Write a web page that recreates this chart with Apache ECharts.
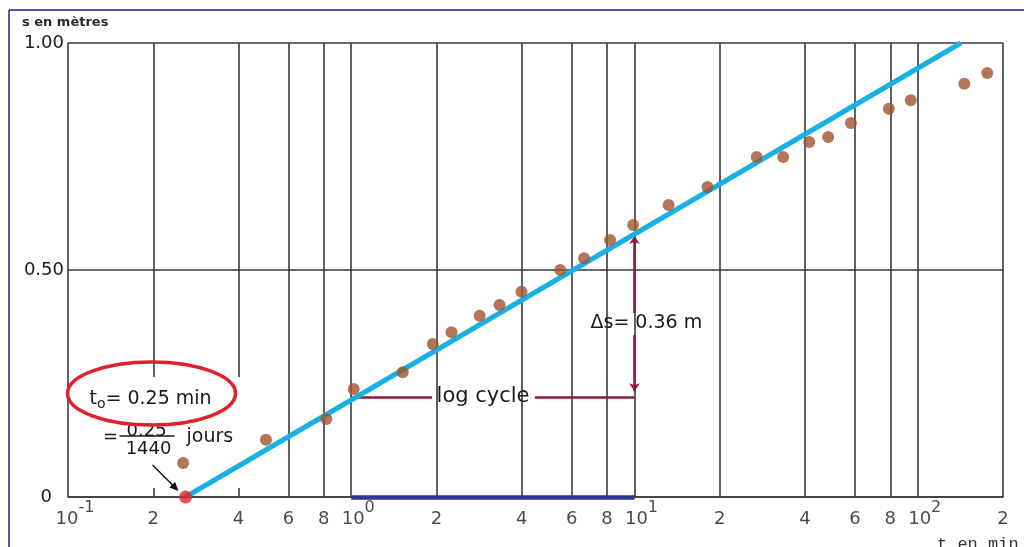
<!DOCTYPE html>
<html>
<head>
<meta charset="utf-8">
<script src="https://cdn.jsdelivr.net/npm/echarts@6/dist/echarts.min.js"></script>
<style>
html,body{margin:0;padding:0;background:#fff;}
#c{width:1024px;height:547px;}
</style>
</head>
<body>
<div id="c"></div>
<script>
// ---- data ----
const timeMin   = [0.255, 0.50, 0.817, 1.02, 1.52, 1.94, 2.26, 2.84, 3.34, 3.99, 5.47, 6.64, 8.2, 9.89, 13.2, 18.1, 27.0, 33.5, 41.4, 48.3, 58.1, 79.1, 94.5, 146, 176];
const drawdownM = [0.075, 0.126, 0.172, 0.238, 0.275, 0.337, 0.363, 0.399, 0.423, 0.452, 0.500, 0.526, 0.566, 0.599, 0.643, 0.683, 0.749, 0.749, 0.782, 0.793, 0.824, 0.855, 0.874, 0.910, 0.934];
const fitLineT  = [0.26, 142];
const fitLineS  = [0, 1.0];
const t0Min     = 0.26;
const xTickValues = [0.1, 0.2, 0.4, 0.6, 0.8, 1, 2, 4, 6, 8, 10, 20, 40, 60, 80, 100, 200];
const xTickLabels = ['10^-1', '2', '4', '6', '8', '10^0', '2', '4', '6', '8', '10^1', '2', '4', '6', '8', '10^2', '2'];
const yTickValues = [0, 0.5, 1.0];
const yTickLabels = ['0', '0.50', '1.00'];
const logCycleT = [1, 10];
const logCycleS = 0.22;
const logCycleTextT = 2.92;
const deltaSTopS = [0.405, 0.575];
const deltaSBotS = [0.357, 0.233];
const deltaSTextS = 0.383;

const FONT = 'DejaVu Sans';
const GRID = '#3a3a3a';
const INK = '#1a1a1a';
const MAROON = '#8E1A3E';

function fmtTick(lbl) {
  if (lbl.indexOf('^') >= 0) {
    const p = lbl.split('^');
    return '{b|' + p[0] + '}{s|' + p[1] + '}';
  }
  return '{b|' + lbl + '}';
}

const chart = echarts.init(document.getElementById('c'), null, {renderer: 'canvas'});

const option = {
  animation: false,
  backgroundColor: '#fff',
  title: {
    text: 's en mètres', left: 17, top: 11,
    textStyle: {fontFamily: FONT, fontSize: 13, fontWeight: 'bold', color: '#2a2a2a'}
  },
  grid: {left: 68, right: 21, top: 43, bottom: 50},
  xAxis: {
    type: 'log', logBase: 10, min: 0.1, max: 200,
    axisLine: {show: true, onZero: false, lineStyle: {color: GRID, width: 1.6}},
    axisTick: {show: false}, axisLabel: {show: false},
    splitLine: {show: false}, minorTick: {show: false}, minorSplitLine: {show: false}
  },
  yAxis: {
    type: 'value', min: 0, max: 1, interval: 0.5,
    axisLine: {show: false}, axisTick: {show: false},
    axisLabel: {
      margin: 4, fontFamily: FONT, fontSize: 18, color: INK,
      formatter: function (v) {
        let idx = -1;
        yTickValues.forEach(function (t, i) { if (Math.abs(t - v) < 1e-9) idx = i; });
        const t = idx >= 0 ? yTickLabels[idx] : '';
        return v === 0 ? '{z|' + t + '}' : t;
      },
      rich: {z: {fontFamily: FONT, fontSize: 18, color: INK, padding: [0, 12, 0, 0]}}
    },
    splitLine: {show: true, lineStyle: {color: GRID, width: 1.6}}
  },
  series: [
    { // vertical grid lines of the semi-log paper
      type: 'line', name: 'grid', data: [], silent: true, z: 1,
      markLine: {
        silent: true, symbol: ['none', 'none'], label: {show: false}, animation: false,
        lineStyle: {color: GRID, width: 1.6, type: 'solid'},
        data: xTickValues.map(function (v) { return {xAxis: v}; })
      }
    },
    { // x tick labels
      type: 'scatter', name: 'ticks', silent: true, z: 3, symbolSize: 1,
      itemStyle: {color: 'rgba(0,0,0,0)'},
      data: xTickValues.map(function (v, i) {
        return {value: [v, 0], label: {offset: xTickLabels[i].indexOf('^') >= 0 ? [7, 0] : [0, 0]}};
      }),
      label: {
        show: true, position: 'bottom', distance: 2,
        formatter: function (p) { return fmtTick(xTickLabels[p.dataIndex]); },
        rich: {
          b: {fontFamily: FONT, fontSize: 18, color: INK, lineHeight: 40, verticalAlign: 'middle'},
          s: {fontFamily: FONT, fontSize: 16, color: INK, lineHeight: 16, verticalAlign: 'top'}
        }
      }
    },
    { // blue bar on the time axis: one log cycle
      type: 'line', name: 'cycle axis', data: [], silent: true, z: 4,
      markLine: {
        silent: true, symbol: ['none', 'none'], label: {show: false}, animation: false,
        lineStyle: {color: '#2B3595', width: 4.5, type: 'solid'},
        data: [[{coord: [logCycleT[0], 0]}, {coord: [logCycleT[1], 0]}]]
      }
    },
    { // log cycle horizontal marker
      type: 'line', name: 'log cycle', data: [], silent: true, z: 4,
      markLine: {
        silent: true, symbol: ['none', 'none'], label: {show: false}, animation: false,
        lineStyle: {color: MAROON, width: 2.5, type: 'solid'},
        data: [
          [{coord: [logCycleT[0], logCycleS]}, {coord: [1.93, logCycleS]}],
          [{coord: [4.45, logCycleS]}, {coord: [logCycleT[1], logCycleS]}]
        ]
      }
    },
    { // delta s vertical arrows
      type: 'line', name: 'delta s', data: [], silent: true, z: 4,
      markLine: {
        silent: true, symbol: ['none', 'arrow'], symbolSize: 8, label: {show: false}, animation: false,
        lineStyle: {color: MAROON, width: 2.5, type: 'solid'},
        data: [
          [{coord: [logCycleT[1], deltaSTopS[0]]}, {coord: [logCycleT[1], deltaSTopS[1]]}],
          [{coord: [logCycleT[1], deltaSBotS[0]]}, {coord: [logCycleT[1], deltaSBotS[1]]}]
        ]
      }
    },
    { // fitted straight line
      type: 'line', name: 'fit', z: 8, silent: true, symbol: 'none',
      lineStyle: {color: '#17B1E6', width: 5},
      data: fitLineT.map(function (t, i) { return [t, fitLineS[i]]; })
    },
    { // t0 point
      type: 'scatter', name: 't0', z: 9, silent: true, symbolSize: 13,
      itemStyle: {color: '#E3202B'},
      data: [[t0Min, 0]]
    },
    { // observations
      type: 'scatter', name: 'drawdown', z: 10, silent: true, symbolSize: 12,
      itemStyle: {color: '#A0552D'},
      data: timeMin.map(function (t, i) { return [t, drawdownM[i]]; })
    }
  ]
};

chart.setOption(option);

function px(t, s) { return chart.convertToPixel({gridIndex: 0}, [t, s]); }
const p0 = px(t0Min, 0);
const pCycle = px(logCycleTextT, logCycleS);
const pDs = px(logCycleT[1], deltaSTextS);

// arrow from fraction to t0 point
const a1 = [p0[0] - 33, p0[1] - 32], tip = [p0[0] - 7, p0[1] - 6];
const dx = tip[0] - a1[0], dy = tip[1] - a1[1], L = Math.sqrt(dx * dx + dy * dy);
const ux = dx / L, uy = dy / L, nx = -uy, ny = ux;
const head = [tip, [tip[0] - ux * 9 + nx * 4, tip[1] - uy * 9 + ny * 4], [tip[0] - ux * 9 - nx * 4, tip[1] - uy * 9 - ny * 4]];

const txt = function (text, x, y, size, align, zz) {
  return {type: 'text', z: zz || 7, silent: true, style: {text: text, x: x, y: y, fill: INK, font: size + 'px "' + FONT + '"', align: align || 'center', verticalAlign: 'middle'}};
};

chart.setOption({
  graphic: [
    {type: 'line', silent: true, z: 20, shape: {x1: 9, y1: 10, x2: 1024, y2: 10}, style: {stroke: '#1c1c94', lineWidth: 1.5}},
    {type: 'line', silent: true, z: 20, shape: {x1: 9, y1: 10, x2: 9, y2: 547}, style: {stroke: '#1c1c94', lineWidth: 1.5}},
    {type: 'rect', silent: true, z: 5, shape: {x: p0[0] - 104, y: p0[1] - 120, width: 168, height: 111}, style: {fill: '#fff'}},
    txt('0.25', p0[0] - 39, p0[1] - 66, 18, 'center', 5),
    {type: 'ellipse', silent: true, z: 6, shape: {cx: p0[0] - 34, cy: p0[1] - 103.5, rx: 84, ry: 31.5}, style: {fill: null, stroke: '#E3202B', lineWidth: 3.5}},
    {type: 'text', z: 7, silent: true, style: {
      text: '{t|t}{sub|o}{t|= 0.25 min}', x: p0[0] - 35, y: p0[1] - 98, align: 'center', verticalAlign: 'middle',
      rich: {
        t: {fontFamily: FONT, fontSize: 19, fill: INK, lineHeight: 24, verticalAlign: 'middle'},
        sub: {fontFamily: FONT, fontSize: 14, fill: INK, lineHeight: 12, verticalAlign: 'bottom'}
      }
    }},
    txt('=', p0[0] - 75, p0[1] - 60, 18),
    {type: 'line', silent: true, z: 7, shape: {x1: p0[0] - 66, y1: p0[1] - 61, x2: p0[0] - 11, y2: p0[1] - 61}, style: {stroke: INK, lineWidth: 1.5}},
    txt('1440', p0[0] - 37, p0[1] - 48, 18),
    txt('jours', p0[0] + 1, p0[1] - 60, 19, 'left'),
    {type: 'line', silent: true, z: 7, shape: {x1: a1[0], y1: a1[1], x2: tip[0] - ux * 6, y2: tip[1] - uy * 6}, style: {stroke: '#111', lineWidth: 1.5}},
    {type: 'polygon', silent: true, z: 7, shape: {points: head}, style: {fill: '#111'}},
    txt('log cycle', pCycle[0], pCycle[1] - 1, 21),
    txt('Δs= 0.36 m', pDs[0] - 44, pDs[1], 19, 'left'),
    {type: 'text', z: 7, silent: true, style: {text: 't en min', x: 937, y: 553, fill: '#333', font: '17px "Liberation Mono"', align: 'left', verticalAlign: 'bottom'}}
  ]
});
</script>
</body>
</html>
